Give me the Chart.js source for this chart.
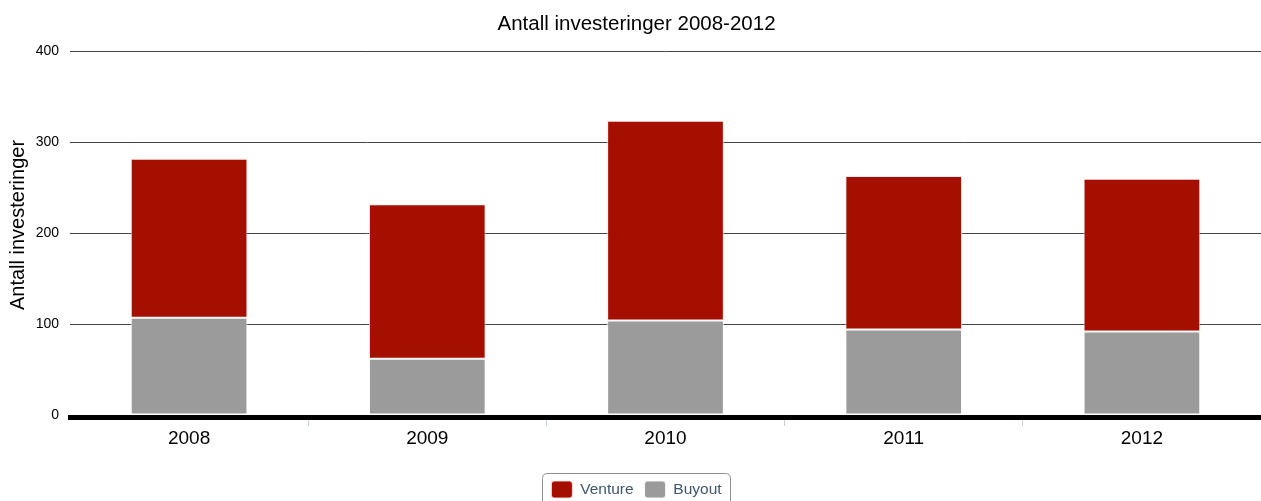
<!DOCTYPE html>
<html>
<head>
<meta charset="utf-8">
<script src="https://cdn.jsdelivr.net/npm/chart.js@4/dist/chart.umd.min.js"></script>
<style>
html,body{margin:0;padding:0;background:#fff;}
#wrap{width:1261px;height:501px;position:relative;}
</style>
</head>
<body>
<div id="wrap"><canvas id="c" width="1261" height="501"></canvas></div>
<script>
const categories = ["2008", "2009", "2010", "2011", "2012"];
const venture = [175, 170, 220, 169, 168];
const buyout = [107, 62, 104, 94, 92];
const yTicks = [0, 100, 200, 300, 400];
const yTitle = 'Antall investeringer';

const FONT = "'Liberation Sans', Arial, sans-serif";

const baselinePlugin = {
  id: 'baseline',
  afterDatasetsDraw(chart) {
    const {ctx, chartArea} = chart;
    ctx.save();
    ctx.fillStyle = '#000';
    ctx.fillRect(chartArea.left - 2, chartArea.bottom, chartArea.right - chartArea.left + 2, 5);
    ctx.restore();
  }
};

const yTitlePlugin = {
  id: 'yTitle',
  afterDraw(chart) {
    const ctx = chart.ctx;
    ctx.save();
    ctx.translate(18, 225);
    ctx.rotate(-Math.PI / 2);
    ctx.fillStyle = '#000';
    ctx.font = "20px " + FONT;
    ctx.textAlign = 'center';
    ctx.textBaseline = 'middle';
    ctx.fillText(yTitle, 0, 0);
    ctx.restore();
  }
};

const shiftPlugin = {
  id: 'shiftBoxes',
  beforeDraw(chart) {
    const lg = chart.legend;
    if (lg && !lg._shifted) {
      const dx = 6;
      lg.left += dx; lg.right += dx;
      (lg.legendHitBoxes || []).forEach(h => { h.left += dx; });
      lg._shifted = true;
    }
    const tb = chart.titleBlock;
    if (tb && !tb._shifted) {
      tb.left += 6; tb.right += 6;
      tb._shifted = true;
    }
  }
};

const legendBorderPlugin = {
  id: 'legendBorder',
  afterDraw(chart) {
    const lg = chart.legend;
    if (!lg || !lg.legendHitBoxes || !lg.legendHitBoxes.length) return;
    const hb = lg.legendHitBoxes;
    let l = Infinity, r = -Infinity, t = Infinity, b = -Infinity;
    hb.forEach(h => { l = Math.min(l, h.left); r = Math.max(r, h.left + h.width); t = Math.min(t, h.top); b = Math.max(b, h.top + h.height); });
    const ctx = chart.ctx;
    ctx.save();
    ctx.strokeStyle = '#909090';
    ctx.lineWidth = 1;
    const x = Math.round(l - 9) + 0.5, y = Math.round(t - 8) + 0.5, w = Math.round(r - l + 18), h = Math.round(b - t + 16);
    const rad = 5;
    ctx.beginPath();
    ctx.moveTo(x + rad, y);
    ctx.lineTo(x + w - rad, y);
    ctx.quadraticCurveTo(x + w, y, x + w, y + rad);
    ctx.lineTo(x + w, y + h - rad);
    ctx.quadraticCurveTo(x + w, y + h, x + w - rad, y + h);
    ctx.lineTo(x + rad, y + h);
    ctx.quadraticCurveTo(x, y + h, x, y + h - rad);
    ctx.lineTo(x, y + rad);
    ctx.quadraticCurveTo(x, y, x + rad, y);
    ctx.stroke();
    ctx.restore();
  }
};

new Chart(document.getElementById('c'), {
  type: 'bar',
  data: {
    labels: categories,
    datasets: [
      {
        label: 'Buyout',
        data: buyout,
        backgroundColor: '#9b9b9b',
        borderColor: 'rgba(255,255,255,0.85)',
        borderWidth: 1,
        borderSkipped: false,
        barPercentage: 0.98,
        categoryPercentage: 0.5
      },
      {
        label: 'Venture',
        data: venture,
        backgroundColor: '#a50f00',
        borderColor: 'rgba(255,230,230,0.85)',
        borderWidth: 1,
        borderSkipped: false,
        barPercentage: 0.98,
        categoryPercentage: 0.5
      }
    ]
  },
  options: {
    responsive: false,
    animation: false,
    devicePixelRatio: 1,
    layout: { padding: { left: 0, right: 0, top: 0, bottom: -7 } },
    plugins: {
      title: {
        display: true,
        text: 'Antall investeringer 2008-2012',
        color: '#000',
        font: { family: FONT, size: 20.5, weight: 'normal' },
        padding: { top: 12, bottom: 15 }
      },
      legend: {
        position: 'bottom',
        reverse: true,
        labels: {
          color: '#3E576F',
          font: { family: FONT, size: 15.5 },
          boxWidth: 21,
          boxHeight: 17,
          useBorderRadius: true,
          borderRadius: 3,
          padding: 11
        }
      },
      tooltip: { enabled: false }
    },
    scales: {
      x: {
        stacked: true,
        grid: {
          offset: true,
          drawOnChartArea: false,
          drawTicks: true,
          tickLength: 11,
          color: (c) => (c.index === 0 || c.index === categories.length) ? 'rgba(0,0,0,0)' : '#c0d0e0'
        },
        border: { display: false },
        ticks: {
          color: '#000',
          font: { family: FONT, size: 19 },
          padding: 1
        },
        afterFit(scale) { scale.height = 55; }
      },
      y: {
        stacked: true,
        min: 0,
        max: 400,
        afterBuildTicks(scale) { scale.ticks = yTicks.map(v => ({ value: v })); },
        grid: {
          color: '#444',
          lineWidth: 1,
          drawTicks: false
        },
        border: { display: false },
        ticks: {
          color: '#000',
          font: { family: FONT, size: 14 },
          padding: 11
        },
        title: { display: false },
        afterFit(scale) { scale.width = 70; }
      }
    }
  },
  plugins: [shiftPlugin, baselinePlugin, legendBorderPlugin, yTitlePlugin]
});
</script>
</body>
</html>
